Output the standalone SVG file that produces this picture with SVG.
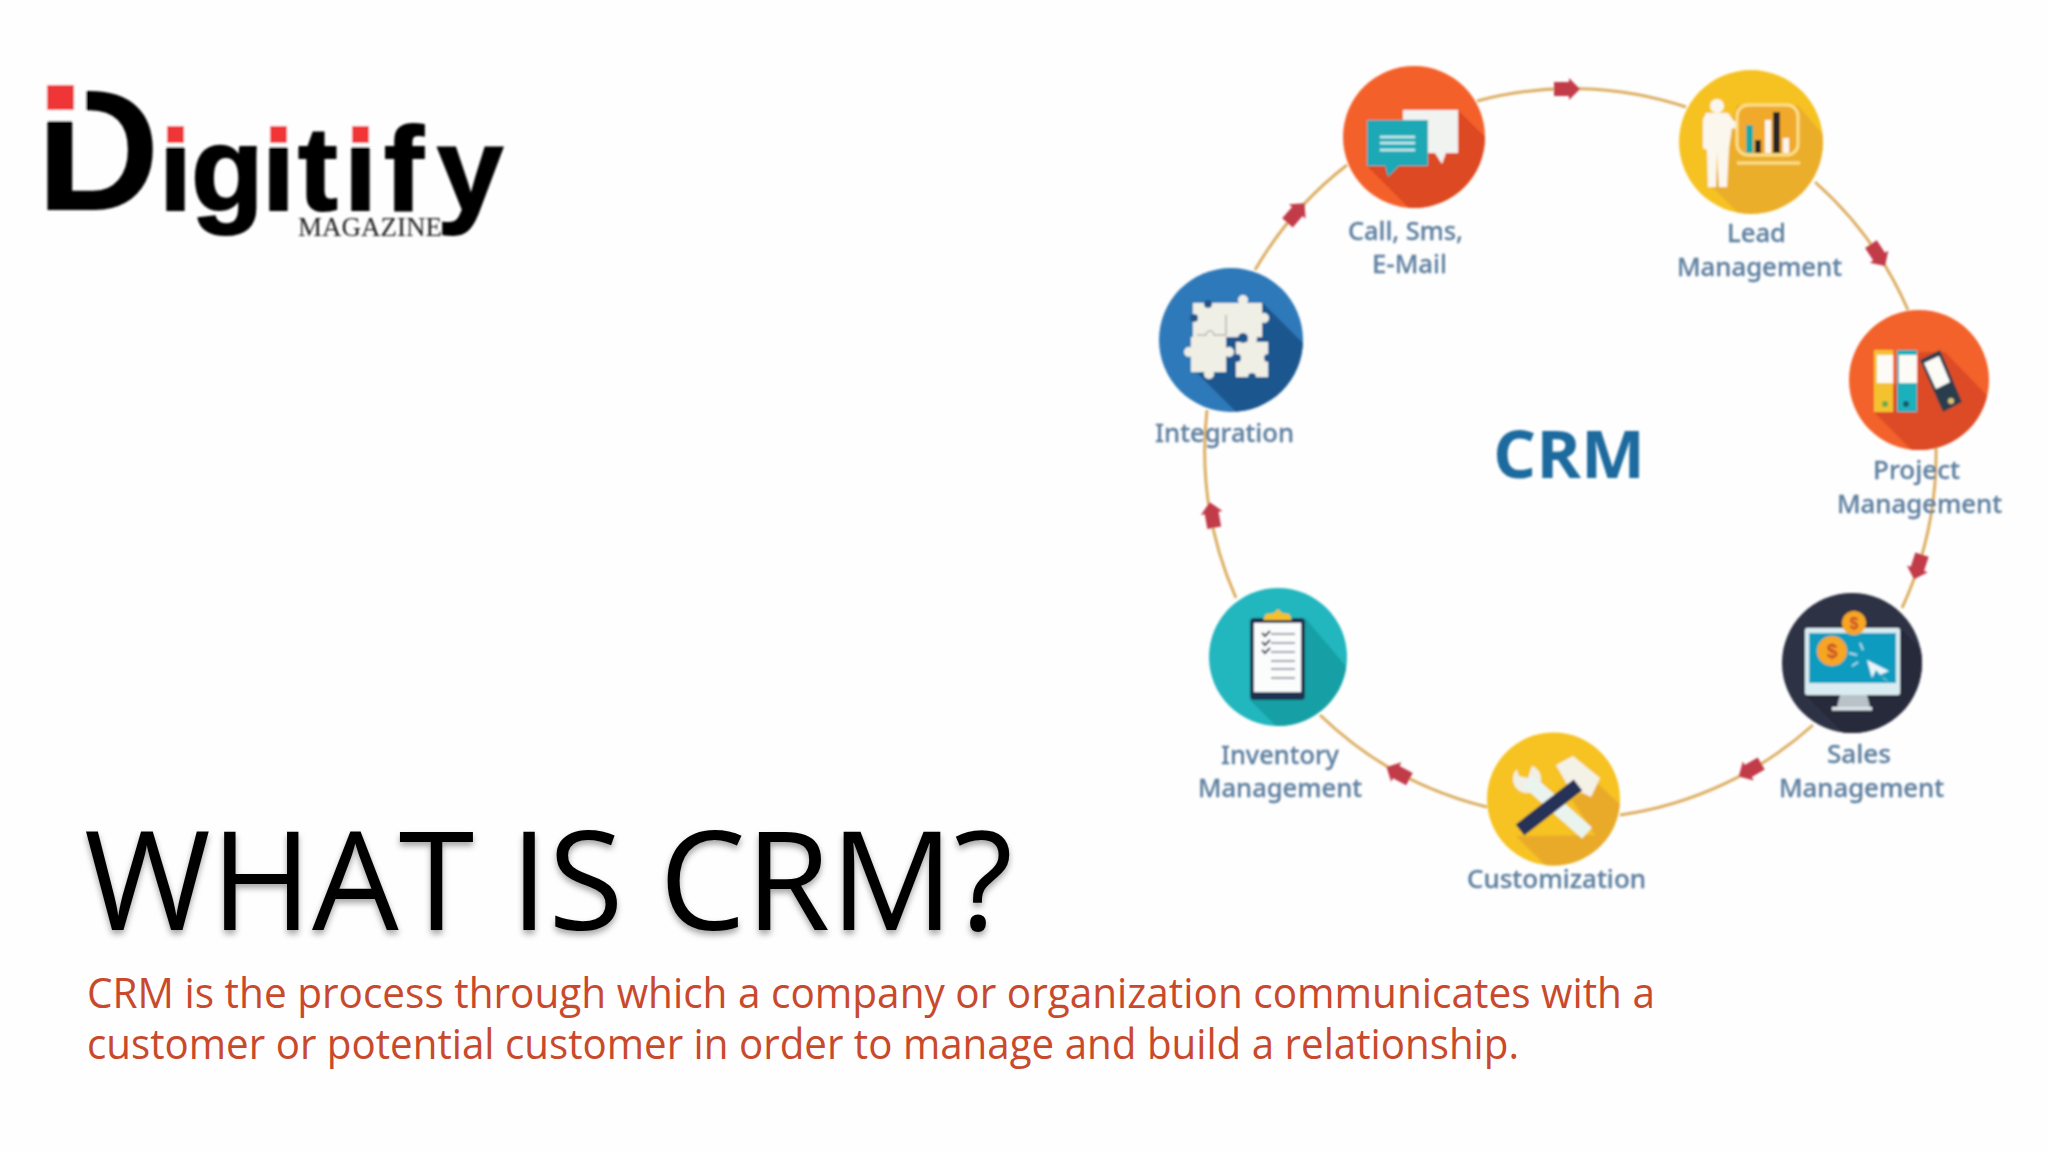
<svg xmlns="http://www.w3.org/2000/svg" width="2048" height="1152" viewBox="0 0 2048 1152">
<style>
.lab{font-family:"Noto Sans","Open Sans",sans-serif;font-size:26px;font-weight:500;fill:#5f80a0;stroke:#5f80a0;stroke-width:0.3px}
.arc{fill:none;stroke:#dcae62;stroke-width:3}
.arw{fill:#c23a4a}
.body{font-family:"Open Sans","Noto Sans",sans-serif;font-size:42px;fill:#c9492c}
</style>
<defs>
<filter id="soft" x="-5%" y="-5%" width="110%" height="110%"><feGaussianBlur stdDeviation="0.9"/></filter>
<filter id="ts" x="-5%" y="-10%" width="110%" height="125%"><feDropShadow dx="0" dy="4" stdDeviation="3" flood-color="#000" flood-opacity="0.35"/></filter>
<polygon id="ah" class="arw" points="-13,-7 2,-7 2,-11 13,0 2,11 2,7 -13,7"/>
<clipPath id="c1"><circle cx="1414" cy="137" r="71"/></clipPath>
<clipPath id="c2"><circle cx="1751" cy="142" r="72"/></clipPath>
<clipPath id="c3"><circle cx="1919" cy="380" r="70"/></clipPath>
<clipPath id="c4"><circle cx="1852" cy="663" r="70"/></clipPath>
<clipPath id="c5"><circle cx="1553.500" cy="799" r="66.500"/></clipPath>
<clipPath id="c6"><circle cx="1278" cy="657" r="69"/></clipPath>
<clipPath id="c7"><circle cx="1231" cy="340" r="72"/></clipPath>
</defs>
<rect width="2048" height="1152" fill="#fefefe"/>

<g id="logo" filter="url(#soft)">
<text x="36" y="210" font-family="Liberation Sans,sans-serif" font-weight="700" font-size="172" fill="#050505" textLength="124" lengthAdjust="spacingAndGlyphs">D</text>
<rect x="30" y="78" width="56" height="43" fill="#fefefe"/>
<rect x="47" y="85" width="27" height="25" fill="#ef3535"/>
<text y="210" font-family="Liberation Sans,sans-serif" font-weight="700" font-size="119" fill="#050505" stroke="#050505" stroke-width="2" x="159 191 262 298 344 384 437">igitify</text>
<rect x="160" y="115" width="35" height="32" fill="#fefefe"/>
<rect x="263" y="115" width="33" height="32" fill="#fefefe"/>
<rect x="345" y="115" width="33" height="32" fill="#fefefe"/>
<rect x="167" y="126" width="17" height="17" fill="#ef3535"/>
<rect x="270" y="126" width="17" height="17" fill="#ef3535"/>
<rect x="352" y="126" width="17" height="17" fill="#ef3535"/>
<text x="298" y="236" font-family="Liberation Serif,serif" font-size="27" fill="#222" textLength="144" lengthAdjust="spacingAndGlyphs">MAGAZINE</text>
</g>

<g filter="url(#soft)">
<g id="connectors">
<path class="arc" d="M1477 101A365 365 0 0 1 1686 107"/>
<path class="arc" d="M1815 182A365 365 0 0 1 1908 310"/>
<path class="arc" d="M1936 448A365 365 0 0 1 1902 608"/>
<path class="arc" d="M1813 725A365 365 0 0 1 1620 815"/>
<path class="arc" d="M1487 807A365 365 0 0 1 1320 715"/>
<path class="arc" d="M1236 598A365 365 0 0 1 1207 410"/>
<path class="arc" d="M1255 270A365 365 0 0 1 1347 165"/>
<use href="#ah" transform="translate(1567 89)"/>
<use href="#ah" transform="translate(1878 255) rotate(57)"/>
<use href="#ah" transform="translate(1918 567) rotate(108)"/>
<use href="#ah" transform="translate(1750 770) rotate(150)"/>
<use href="#ah" transform="translate(1398 773) rotate(208)"/>
<use href="#ah" transform="translate(1212 515) rotate(260)"/>
<use href="#ah" transform="translate(1296 213) rotate(-49)"/>
</g>

<g id="node-call">
<circle cx="1414" cy="137" r="71" fill="#f4602a"/>
<polygon clip-path="url(#c1)" points="1367,166 1500,299 1600,252 1458,110" fill="#dc4a22"/>
<polygon points="1403,110 1458,110 1458,153 1446,153 1442,164 1435,153 1403,153" fill="#f1f3f1"/>
<polygon points="1367,120 1428,120 1428,166 1399,166 1388,177 1385,166 1367,166" fill="#1fa9b5"/>
<path d="M1380 137H1415M1380 143H1415M1380 150H1415" stroke="#c9eef0" stroke-width="2.500"/>
<text class="lab" x="1348" y="240" textLength="115" lengthAdjust="spacingAndGlyphs">Call, Sms,</text>
<text class="lab" x="1372" y="273" textLength="75" lengthAdjust="spacingAndGlyphs">E-Mail</text>
</g>

<g id="node-lead">
<circle cx="1751" cy="142" r="72" fill="#f6c222"/>
<polygon clip-path="url(#c2)" points="1712,187 1800,275 1900,225 1798,105 1737,105" fill="#ebae2c"/>
<circle cx="1717" cy="106" r="7" fill="#fbf7ee"/>
<polygon points="1706,113 1728,113 1733,120 1744,127 1746,131 1732,128 1729,148 1727,187 1719,187 1717,152 1716,187 1708,187 1707,150 1703,148 1703,120" fill="#fbf7ee"/>
<rect x="1737" y="105" width="61" height="50" rx="11" fill="#f0a92a" stroke="#fbe08a" stroke-width="3"/>
<rect x="1746" y="125" width="7" height="28" fill="#1fa9a5"/>
<rect x="1755" y="140" width="6" height="13" fill="#26272c"/>
<rect x="1765" y="120" width="6" height="33" fill="#fbf7ee"/>
<rect x="1773" y="112" width="7" height="41" fill="#26272c"/>
<rect x="1783" y="138" width="6" height="15" fill="#fbf7ee"/>
<path d="M1737 163H1800" stroke="#fbe08a" stroke-width="3"/>
<text class="lab" x="1727" y="242" textLength="59" lengthAdjust="spacingAndGlyphs">Lead</text>
<text class="lab" x="1677" y="276" textLength="165" lengthAdjust="spacingAndGlyphs">Management</text>
</g>

<g id="node-project">
<circle cx="1919" cy="380" r="70" fill="#f3622c"/>
<polygon clip-path="url(#c3)" points="1874,412 1970,510 2040,450 1945,352 1920,352" fill="#dd4b25"/>
<rect x="1874" y="350" width="19" height="62" fill="#f3c22e"/>
<rect x="1877" y="355" width="16" height="28" fill="#fdfbf6"/>
<circle cx="1885" cy="404" r="3" fill="#6ea94d"/>
<rect x="1897" y="350" width="20" height="62" fill="#1fb0bb"/>
<rect x="1899" y="355" width="18" height="28" fill="#fdfbf6"/>
<circle cx="1906" cy="404" r="3" fill="#14586c"/>
<polygon points="1920,360 1940,350 1962,402 1943,412" fill="#2c3e4e"/>
<polygon points="1924,363 1939,356 1950,382 1936,389" fill="#fdfbf6"/>
<circle cx="1951" cy="401" r="3" fill="#d9c27a"/>
<text class="lab" x="1873" y="479" textLength="87" lengthAdjust="spacingAndGlyphs">Project</text>
<text class="lab" x="1837" y="513" textLength="165" lengthAdjust="spacingAndGlyphs">Management</text>
</g>

<g id="node-sales">
<circle cx="1852" cy="663" r="70" fill="#2d3345"/>
<polygon clip-path="url(#c4)" points="1805,695 1900,790 1990,720 1900,628" fill="#262b3b"/>
<rect x="1805" y="628" width="95" height="67" rx="2" fill="#d8ecf1"/>
<rect x="1809" y="633" width="87" height="50" fill="#119cc0"/>
<polygon points="1840,695 1867,695 1870,707 1837,707" fill="#b9c2c9"/>
<rect x="1832" y="707" width="40" height="3.500" fill="#dfe6ea"/>
<circle cx="1832" cy="651" r="15" fill="#f6a623"/>
<circle cx="1854" cy="623" r="12" fill="#f6a623"/>
<text x="1832" y="658" text-anchor="middle" font-family="Liberation Sans,sans-serif" font-weight="700" font-size="20" fill="#c9492c">$</text>
<text x="1854" y="629" text-anchor="middle" font-family="Liberation Sans,sans-serif" font-weight="700" font-size="16" fill="#c9492c">$</text>
<polygon points="1867,660 1889,671 1880,675 1890,683 1884,679 1876,670 1872,678" fill="#e9f5fa"/>
<path d="M1863 650l-3 -7M1857 655l-8 -2M1858 662l-6 4" stroke="#a9dbe8" stroke-width="2"/>
<text class="lab" x="1827" y="763" textLength="64" lengthAdjust="spacingAndGlyphs">Sales</text>
<text class="lab" x="1779" y="797" textLength="165" lengthAdjust="spacingAndGlyphs">Management</text>
</g>

<g id="node-customization">
<circle cx="1553.500" cy="799" r="66.500" fill="#f6c320"/>
<polygon clip-path="url(#c5)" points="1516,836 1590,910 1670,850 1597,783 1572,800 1595,835" fill="#e9aa2c"/>
<circle cx="1527" cy="779" r="14" fill="#f2efe4"/>
<polygon points="1513,758 1533,762 1528,778 1519,776" fill="#f6c320"/>
<path d="M1527 780L1587 833" stroke="#eaf4ee" stroke-width="15"/>
<polygon points="1556,765 1573,756 1600,778 1591,797 1568,786" fill="#f4f1e6"/>
<path d="M1520 830L1578 785" stroke="#283058" stroke-width="14"/>
<text class="lab" x="1467" y="888" textLength="179" lengthAdjust="spacingAndGlyphs">Customization</text>
</g>

<g id="node-inventory">
<circle cx="1278" cy="657" r="69" fill="#22b6be"/>
<polygon clip-path="url(#c6)" points="1250,700 1330,780 1400,730 1305,618" fill="#17a0a5"/>
<rect x="1250" y="618" width="55" height="82" rx="4" fill="#1f3050"/>
<rect x="1254" y="623" width="47" height="69" fill="#fbfcfc"/>
<polygon points="1263,620 1266,614 1274,613 1278,609 1282,613 1289,614 1292,620" fill="#f6c02a"/>
<path d="M1271 634H1295M1271 643H1295M1271 652H1295M1271 661H1295M1271 669H1295M1271 678H1295" stroke="#9aa3ab" stroke-width="2"/>
<path d="M1262 633l3 3 5 -5M1262 642l3 3 5 -5M1262 650l3 3 5 -5" fill="none" stroke="#2b3a4a" stroke-width="2"/>
<text class="lab" x="1221" y="764" textLength="118" lengthAdjust="spacingAndGlyphs">Inventory</text>
<text class="lab" x="1198" y="797" textLength="164" lengthAdjust="spacingAndGlyphs">Management</text>
</g>

<g id="node-integration">
<circle cx="1231" cy="340" r="72" fill="#2e79b9"/>
<polygon clip-path="url(#c7)" points="1197,373 1297,473 1362,402 1262,302 1225,337" fill="#1c568e"/>
<g fill="#f0efe6">
<rect x="1193" y="303" width="69" height="34"/>
<circle cx="1243" cy="300" r="5"/>
<circle cx="1264" cy="318" r="5"/>
<rect x="1191" y="337" width="35" height="35"/>
<circle cx="1189" cy="352" r="5"/>
<circle cx="1209" cy="374" r="5"/>
<circle cx="1229" cy="352" r="5"/>
<rect x="1236" y="342" width="32" height="35"/>
<circle cx="1252" cy="339" r="5"/>
</g>
<circle cx="1208" cy="304" r="4" fill="#22558a"/>
<circle cx="1194" cy="318" r="4" fill="#22558a"/>
<circle cx="1243" cy="338" r="5" fill="#1c568e"/>
<circle cx="1237" cy="358" r="4" fill="#1c568e"/>
<circle cx="1268" cy="358" r="4" fill="#1c568e"/>
<circle cx="1252" cy="377" r="4" fill="#1c568e"/>
<path d="M1197 335H1206a4 4 0 0 1 8 0H1226V315" fill="none" stroke="#b5b5ae" stroke-width="1.500"/>
<text class="lab" x="1155" y="442" textLength="139" lengthAdjust="spacingAndGlyphs">Integration</text>
</g>

<text id="center-crm" x="1493" y="478" font-family="Open Sans,Noto Sans,sans-serif" font-weight="700" font-size="67" fill="#1f6b9e" textLength="152" lengthAdjust="spacingAndGlyphs">CRM</text>
</g>

<text id="title" x="84" y="930" font-family="Open Sans,Noto Sans,sans-serif" font-size="137" fill="#050505" filter="url(#ts)" textLength="929" lengthAdjust="spacingAndGlyphs">WHAT IS CRM?</text>
<text class="body" x="87" y="1008" textLength="1568" lengthAdjust="spacingAndGlyphs">CRM is the process through which a company or organization communicates with a</text>
<text class="body" x="87" y="1059" textLength="1432" lengthAdjust="spacingAndGlyphs">customer or potential customer in order to manage and build a relationship.</text>
</svg>
